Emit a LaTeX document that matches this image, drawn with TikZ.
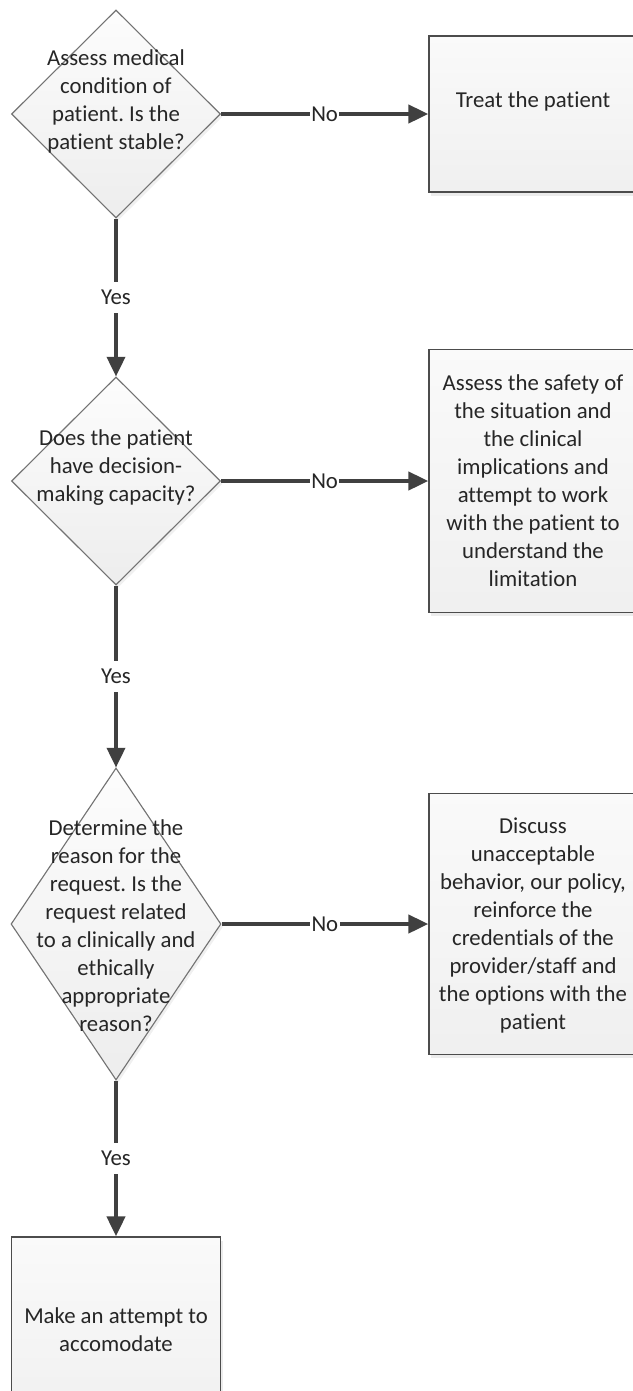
\documentclass[tikz,border=0pt]{standalone}
\usepackage{fontspec}
\setmainfont{Carlito}[Ligatures={NoCommon,NoRequired,NoContextual}, RawFeature={-liga;-rlig;-clig;-calt;-ccmp}]
\usetikzlibrary{shapes.geometric, arrows.meta, shadows}
\frenchspacing

\tikzset{
  decision/.style={diamond, draw=black!55, line width=0.8pt, inner sep=0pt,
    top color=black!1, bottom color=black!7,
    drop shadow={shadow xshift=1.5pt, shadow yshift=-2pt, opacity=0.12}},
  action/.style={rectangle, draw=black!70, line width=1.2pt, inner sep=0pt,
    minimum width=5.2cm, top color=black!2, bottom color=black!6,
    drop shadow={shadow xshift=1.5pt, shadow yshift=-2.5pt, opacity=0.15}},
  txt/.style={align=center, text=black!85, inner sep=0pt},
  answer/.style={fill=white, text=black!85, inner xsep=1pt, inner ysep=1pt},
  yesgap/.style={inner ysep=6pt},
  flow/.style={draw=black!75, line width=2.2pt, -{Triangle[length=14pt, width=13pt]}},
}

\begin{document}
\begin{tikzpicture}[font=\fontsize{16.2}{19.9}\selectfont]
  \useasboundingbox (0,0) rectangle (15.825,-34.775);
  \clip (0,0) rectangle (15.825,-34.775);
  % decisions
  \node[decision, minimum width=5.225cm, minimum height=5.2cm] (d1) at (2.9,-2.85) {};
  \node[decision, minimum width=5.225cm, minimum height=5.2cm] (d2) at (2.9,-12.025) {};
  \node[decision, minimum width=5.25cm, minimum height=7.8cm] (d3) at (2.9,-23.1) {};
  \node[txt] (d1t) at (2.9,-2.54) {Assess medical\\condition of\\patient. Is the\\patient stable?};
  \node[txt] (d2t) at (2.9,-11.7) {Does the patient\\have decision-\\making capacity?};
  \node[txt] (d3t) at (2.9,-23.15) {Determine the\\reason for the\\request. Is the\\request related\\to a clinically and\\ethically\\appropriate\\reason?};
  % actions
  \node[action, minimum height=3.9cm] (b1) at (13.325,-2.85) {};
  \node[action, minimum height=6.575cm] (b2) at (13.325,-12.025) {};
  \node[action, minimum height=6.525cm] (b3) at (13.325,-23.1) {};
  \node[action, minimum width=5.225cm, minimum height=4.8cm] (b4) at (2.9,-33.325) {};
  \node[txt] (b1t) at (13.325,-2.525) {Treat the patient};
  \node[txt] (b2t) at (13.325,-12.02) {Assess the safety of\\the situation and\\the clinical\\implications and\\attempt to work\\with the patient to\\understand the\\limitation};
  \node[txt] (b3t) at (13.325,-23.14) {Discuss\\unacceptable\\behavior, our policy,\\reinforce the\\credentials of the\\provider/staff and\\the options with the\\patient};
  \node[txt] (b4t) at (2.9,-33.25) {Make an attempt to\\accomodate};
  % connectors
  \draw[flow] (d1) -- node[answer] {No} (b1);
  \draw[flow] (d2) -- node[answer] {No} (b2);
  \draw[flow] (d3) -- node[answer] {No} (b3);
  \draw[flow] (d1) -- node[answer, yesgap] {Yes} (d2);
  \draw[flow] (d2) -- node[answer, yesgap] {Yes} (d3);
  \draw[flow] (d3) -- node[answer, yesgap] {Yes} (b4);
\end{tikzpicture}
\end{document}
